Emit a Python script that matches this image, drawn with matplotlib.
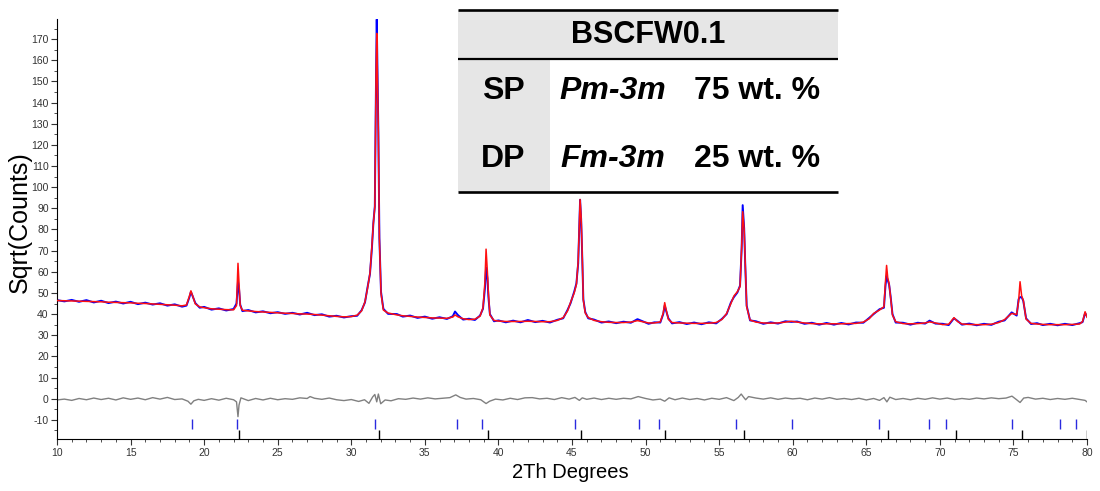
import numpy as np
import matplotlib
matplotlib.use("Agg")
import matplotlib.pyplot as plt
from matplotlib.ticker import MultipleLocator
from matplotlib.patches import Rectangle

plt.rcParams['font.family'] = ['Liberation Sans', 'DejaVu Sans']
plt.rcParams['axes.unicode_minus'] = False

# ---------------- data ----------------
two_theta = [10.0, 10.5, 11.0, 11.5, 12.0, 12.5, 13.0, 13.5, 14.0, 14.5, 15.0, 15.5, 16.0, 16.5,
             17.0, 17.5, 18.0, 18.5, 18.8, 19.0, 19.1, 19.2, 19.4, 19.7, 20.0, 20.5, 21.0, 21.5,
             22.0, 22.2, 22.3, 22.37, 22.45, 22.6, 23.0, 23.5, 24.0, 24.5, 25.0, 25.5, 26.0, 26.5,
             27.0, 27.5, 28.0, 28.5, 29.0, 29.5, 30.0, 30.4, 30.7, 30.93, 31.1, 31.27, 31.4, 31.5,
             31.6, 31.68, 31.73, 31.84, 31.91, 32.02, 32.18, 32.5, 33.1, 33.5, 34.0, 34.5, 35.0,
             35.5, 36.0, 36.5, 36.9, 37.05, 37.25, 37.6, 38.0, 38.4, 38.75, 38.95, 39.08, 39.16,
             39.25, 39.32, 39.42, 39.7, 40.0, 40.5, 41.0, 41.5, 42.0, 42.5, 43.0, 43.5, 44.0, 44.4,
             44.7, 44.9, 45.15, 45.3, 45.42, 45.48, 45.55, 45.62, 45.68, 45.77, 45.9, 46.1, 46.5,
             47.0, 47.5, 48.0, 48.5, 49.0, 49.45, 49.8, 50.2, 50.6, 51.0, 51.2, 51.3, 51.4, 51.55,
             51.8, 52.3, 52.8, 53.3, 53.8, 54.3, 54.8, 55.2, 55.51, 55.8, 56.0, 56.24, 56.42, 56.53,
             56.6, 56.7, 56.78, 56.87, 57.1, 57.5, 58.0, 58.5, 59.0, 59.5, 59.9, 60.3, 60.8, 61.3,
             61.8, 62.3, 62.8, 63.3, 63.8, 64.3, 64.8, 65.2, 65.5, 65.9, 66.2, 66.3, 66.38, 66.46,
             66.55, 66.65, 66.78, 67.0, 67.5, 68.0, 68.5, 69.0, 69.3, 69.7, 70.2, 70.6, 70.96, 71.2,
             71.5, 72.0, 72.5, 73.0, 73.5, 74.0, 74.4, 74.88, 75.22, 75.35, 75.45, 75.56, 75.67,
             75.86, 76.2, 76.6, 77.0, 77.5, 78.0, 78.5, 79.0, 79.5, 79.7, 79.87, 80.0]

calc = [46.4, 46.3, 46.2, 46.1, 46.0, 45.9, 45.8, 45.6, 45.5, 45.4, 45.3, 45.1, 45.0, 44.8,
        44.6, 44.4, 44.2, 43.9, 44.3, 48.5, 51.0, 49.0, 44.8, 43.4, 43.0, 42.5, 42.3, 42.1,
        42.0, 44.0, 64.0, 55.0, 44.0, 41.8, 41.5, 41.2, 41.0, 40.8, 40.6, 40.4, 40.3, 40.1,
        40.0, 39.8, 39.5, 39.2, 38.9, 38.7, 38.8, 39.5, 41.5, 45.8, 52.0, 59.3, 72.0, 82.9,
        90.7, 152.0, 172.7, 125.4, 75.8, 49.8, 41.9, 40.5, 39.6, 39.2, 38.9, 38.6, 38.4,
        38.2, 38.1, 38.0, 38.6, 39.6, 38.7, 37.8, 37.4, 37.6, 39.0, 43.0, 55.0, 70.7,
        60.0, 50.0, 39.5, 37.0, 36.7, 36.5, 36.5, 36.5, 36.6, 36.5, 36.4, 36.4, 37.0, 38.3,
        41.5, 45.5, 50.0, 54.0, 65.0, 78.2, 94.2, 86.0, 72.0, 46.6, 40.5, 38.4, 37.0,
        36.4, 36.1, 36.0, 36.0, 36.2, 36.9, 36.4, 35.8, 35.8, 36.3, 40.5, 45.4, 42.0, 37.5,
        36.0, 35.8, 35.7, 35.6, 35.6, 35.7, 36.0, 37.5, 40.3, 45.0, 48.5, 50.6, 53.0, 71.8,
        88.4, 80.0, 62.4, 43.5, 37.2, 36.2, 35.8, 35.7, 35.8, 36.2, 36.6, 36.2, 35.8, 35.5,
        35.4, 35.4, 35.4, 35.4, 35.5, 35.6, 36.2, 37.8, 40.3, 41.9, 43.5, 55.0, 63.0, 57.0,
        54.5, 48.0, 39.5, 36.4, 35.5, 35.4, 35.5, 35.8, 36.3, 35.8, 35.0, 35.2, 38.3, 36.5,
        35.3, 35.1, 35.0, 35.0, 35.2, 36.0, 37.4, 40.3, 39.8, 46.0, 55.3, 48.5, 46.6,
        37.6, 35.6, 35.3, 35.1, 35.0, 35.0, 35.0, 35.1, 35.3, 36.5, 41.1, 38.5]

observed = [46.6, 46.0, 46.7, 45.8, 46.6, 45.5, 46.3, 45.2, 45.9, 45.0, 45.8, 44.7, 45.4, 44.5,
            45.1, 44.0, 44.6, 43.5, 44.0, 48.0, 50.5, 48.8, 45.2, 43.0, 43.4, 42.1, 42.7, 41.7,
            42.4, 45.0, 55.3, 52.0, 44.5, 41.4, 41.9, 40.8, 41.3, 40.4, 40.9, 40.1, 40.6, 39.8,
            40.6, 39.5, 39.9, 38.8, 39.2, 38.4, 39.0, 39.2, 41.8, 45.5, 52.5, 59.0, 71.0, 83.0,
            91.0, 150.0, 179.3, 126.0, 76.0, 50.5, 42.5, 40.1, 40.0, 38.8, 39.3, 38.2, 38.8,
            37.8, 38.5, 37.7, 39.0, 41.2, 39.5, 37.4, 37.8, 37.2, 39.3, 42.5, 52.0, 62.0,
            57.0, 48.0, 40.0, 36.6, 37.0, 36.1, 36.9, 36.1, 37.2, 36.2, 36.8, 36.0, 37.3, 38.0,
            42.0, 45.1, 50.6, 54.5, 64.0, 78.0, 94.0, 85.0, 71.0, 47.0, 41.0, 38.0, 37.4,
            36.0, 36.5, 35.7, 36.4, 35.9, 37.6, 36.6, 35.4, 36.1, 36.0, 40.0, 44.0, 41.5, 38.0,
            35.6, 36.2, 35.3, 36.0, 35.2, 36.1, 35.6, 37.8, 40.0, 45.5, 48.0, 50.2, 53.5, 71.0,
            91.5, 80.5, 62.0, 44.0, 37.0, 36.6, 35.4, 36.1, 35.5, 36.6, 36.3, 36.5, 35.4, 35.9,
            35.0, 35.8, 35.0, 35.8, 35.1, 36.0, 35.9, 38.2, 40.0, 42.3, 43.0, 53.0, 58.0, 56.0,
            54.0, 48.5, 40.0, 36.0, 35.9, 35.0, 35.9, 35.5, 36.9, 35.5, 35.4, 34.8, 38.0, 36.8,
            35.0, 35.5, 34.7, 35.4, 34.9, 36.4, 37.0, 40.8, 39.3, 47.0, 48.0, 48.0, 46.2,
            38.0, 35.3, 35.7, 34.8, 35.4, 34.7, 35.4, 34.8, 35.7, 36.2, 40.5, 39.0]

diff_theta = [10.0, 10.5, 11.0, 11.5, 12.0, 12.5, 13.0, 13.5, 14.0, 14.5, 15.0, 15.5, 16.0, 16.5,
              17.0, 17.5, 18.0, 18.5, 18.9, 19.1, 19.3, 19.6, 20.0, 20.5, 21.0, 21.5, 22.0, 22.2,
              22.3, 22.37, 22.5, 23.0, 23.5, 24.0, 24.5, 25.0, 25.5, 26.0, 26.5, 27.0, 27.2, 27.5,
              28.0, 28.5, 29.0, 29.5, 30.0, 30.5, 30.9, 31.2, 31.45, 31.6, 31.73, 31.84, 32.0, 32.3,
              32.7, 33.2, 33.7, 34.2, 34.7, 35.2, 35.7, 36.2, 36.7, 37.1, 37.4, 37.8, 38.3, 38.8,
              39.16, 39.4, 39.8, 40.3, 40.8, 41.3, 41.8, 42.3, 42.8, 43.3, 43.8, 44.3, 44.8, 45.2,
              45.5, 45.7, 46.0, 46.5, 47.0, 47.5, 48.0, 48.5, 49.0, 49.5, 50.0, 50.5, 51.0, 51.3,
              51.6, 52.0, 52.5, 53.0, 53.5, 54.0, 54.5, 55.0, 55.5, 56.0, 56.3, 56.5, 56.65, 56.8,
              57.0, 57.5, 58.0, 58.5, 59.0, 59.5, 60.0, 60.5, 61.0, 61.5, 62.0, 62.5, 63.0, 63.5,
              64.0, 64.5, 65.0, 65.5, 65.9, 66.2, 66.4, 66.6, 67.0, 67.5, 68.0, 68.5, 69.0, 69.5,
              70.0, 70.5, 71.0, 71.5, 72.0, 72.5, 73.0, 73.5, 74.0, 74.5, 74.9, 75.2, 75.45, 75.7,
              76.0, 76.5, 77.0, 77.5, 78.0, 78.5, 79.0, 79.5, 79.87, 80.0]

difference = [-0.6, -0.2, -0.8, 0.1, -0.5, 0.3, -0.4, 0.2, -0.6, 0.4, -0.3, 0.3, -0.5, 0.5,
              -0.2, 0.6, -0.4, -0.1, -1.2, -2.6, -1.0, -0.3, -0.8, 0.0, -0.7, 0.2, -0.5, -1.5,
              -8.5, -3.0, 0.4, -0.9, 0.1, -0.6, 0.2, -0.5, 0.0, -0.3, 0.4, 0.1, 1.0, 0.2,
              -0.3, 0.3, -0.5, -0.9, -0.4, -1.3, -0.5, -2.2, 0.8, 2.0, -1.5, 2.2, -2.4, -0.6,
              -1.0, 0.0, -0.3, 0.3, -0.2, 0.4, -0.1, 0.2, 0.5, 1.8, 0.6, -0.2, 0.1, -0.5,
              -2.3, -1.2, -0.2, -0.6, 0.2, -0.4, 0.4, 0.5, -0.1, 0.2, -0.4, 0.5, -0.2, 0.6,
              -0.8, 0.4, -0.3, 0.3, -0.4, 0.2, -0.3, 0.2, -0.1, 1.0, 0.1, -0.6, -0.2, -1.2,
              0.4, -0.5, 0.3, -0.4, 0.1, -0.6, 0.2, -0.3, 0.5, -0.9, 0.6, 2.2, 0.8, -0.5,
              1.0, 0.3, -0.2, 0.4, -0.3, 0.3, -0.1, 0.2, -0.5, 0.3, -0.2, 0.5, -0.3, 0.1,
              -0.4, 0.2, -0.6, 0.1, -0.8, 0.5, -1.5, 0.7, -0.4, 0.1, -0.5, 0.2, -0.3, 0.4,
              -0.2, 0.3, -0.4, 0.1, -0.3, 0.3, -0.1, 0.4, 0.0, 0.3, 1.2, -0.4, -1.8, 0.3,
              0.6, -0.2, 0.2, -0.4, 0.1, -0.3, 0.2, -0.4, -0.8, -1.5]

# reflection positions
dp_reflections = [19.15, 22.23, 31.58, 37.2, 38.9, 45.22, 49.55, 50.92, 56.16, 59.93, 65.84,
                  69.28, 70.43, 74.88, 78.18, 79.27]          # Fm-3m (blue)
sp_reflections = [22.37, 31.86, 39.26, 45.64, 51.33, 56.72, 66.47, 71.11, 75.55, 80.0]  # Pm-3m (black)

title_text = "BSCFW0.1"
phase_rows = [("SP", "Pm-3m", "75 wt. %"), ("DP", "Fm-3m", "25 wt. %")]

# ---------------- figure ----------------
W, H = 1100, 491
fig = plt.figure(figsize=(W / 100, H / 100), dpi=100)
ax = fig.add_axes([57 / W, 1 - 439.3 / H, (1087 - 57) / W, (439.3 - 19) / H])

ax.plot(two_theta, observed, color='#0000ff', lw=1.4, zorder=2)
ax.plot(two_theta, calc, color='#ff1010', lw=1.1, zorder=3)
ax.plot(diff_theta, difference, color='#808080', lw=1.0, zorder=2)
ax.vlines(dp_reflections, -14.2, -9.8, color='#2a2adf', lw=1.0)
ax.vlines(sp_reflections, -19.2, -14.6, color='black', lw=1.0)

ax.set_xlim(10, 80)
ax.set_ylim(-19.2, 179.5)
for s in ('top', 'right'):
    ax.spines[s].set_visible(False)
ax.xaxis.set_major_locator(MultipleLocator(5))
ax.xaxis.set_minor_locator(MultipleLocator(1))
ax.yaxis.set_major_locator(MultipleLocator(10))
ax.yaxis.set_minor_locator(MultipleLocator(5))
ax.set_yticks(np.arange(-10, 171, 10))
ax.tick_params(which='major', length=4, width=0.8, labelsize=7.5, colors='#333333', pad=2)
ax.tick_params(which='minor', length=2, width=0.6, colors='#333333')

ax.set_xlabel("2Th Degrees", fontsize=14.5)
ax.xaxis.set_label_coords((570 - 57) / 1030, (439.3 - 473) / 420.3)
ax.xaxis.label.set_va('center')
ax.set_ylabel("Sqrt(Counts)", fontsize=18)
ax.yaxis.set_label_coords((20 - 57) / 1030, (439.3 - 222) / 420.3)
ax.yaxis.label.set_va('center')

# ---------------- inset table ----------------
ov = fig.add_axes([0, 0, 1, 1], zorder=5)
ov.set_xlim(0, W)
ov.set_ylim(H, 0)
ov.axis('off')
ov.patch.set_alpha(0)
x0, x1, xc = 458, 838, 550
ov.add_patch(Rectangle((x0, 10), x1 - x0, 49, facecolor='#e6e6e6', edgecolor='none'))
ov.add_patch(Rectangle((x0, 59), xc - x0, 133, facecolor='#e6e6e6', edgecolor='none'))
ov.add_patch(Rectangle((xc, 59), x1 - xc, 133, facecolor='white', edgecolor='none'))
ov.plot([x0, x1], [10, 10], color='black', lw=1.9, solid_capstyle='butt')
ov.plot([x0, x1], [59, 59], color='black', lw=1.6, solid_capstyle='butt')
ov.plot([x0, x1], [192, 192], color='black', lw=1.9, solid_capstyle='butt')
ov.text(648, 35, title_text, ha='center', va='center', fontsize=22, fontweight='bold')
row_y = [91, 159]
for (ph, sg, wt), yy in zip(phase_rows, row_y):
    ov.text(503, yy, ph, ha='center', va='center', fontsize=23, fontweight='bold')
    ov.text(613, yy, sg, ha='center', va='center', fontsize=23, fontweight='bold', fontstyle='italic')
    ov.text(757, yy, wt, ha='center', va='center', fontsize=23, fontweight='bold')

fig.savefig("out.png", dpi=100)
